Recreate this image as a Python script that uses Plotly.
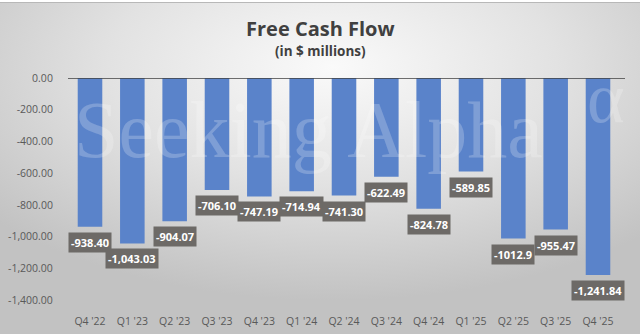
import base64
import plotly.graph_objects as go

# Quarterly free cash flow, $ millions
quarters = ["Q4 '22", "Q1 '23", "Q2 '23", "Q3 '23", "Q4 '23", "Q1 '24", "Q2 '24",
            "Q3 '24", "Q4 '24", "Q1 '25", "Q2 '25", "Q3 '25", "Q4 '25"]
fcf_labels = ["-938.40", "-1,043.03", "-904.07", "-706.10", "-747.19", "-714.94", "-741.30",
              "-622.49", "-824.78", "-589.85", "-1012.9", "-955.47", "-1,241.84"]
fcf = [float(s.replace(",", "")) for s in fcf_labels]

y_ticks = [0, -200, -400, -600, -800, -1000, -1200, -1400]
y_tick_text = ["0.00", "-200.00", "-400.00", "-600.00", "-800.00", "-1,000.00", "-1,200.00", "-1,400.00"]

FONT = "Open Sans, Noto Sans, sans-serif"
W, H = 640, 334
L, R, T, B = 68, 15, 78, 34
pw, ph = W - L - R, H - T - B


def px_x(x):
    return (x - L) / pw


def px_y(y):
    return (H - B - y) / ph


# soft radial grey backdrop
bg_svg = f"""<svg xmlns='http://www.w3.org/2000/svg' width='{W}' height='{H}'>
<defs><radialGradient id='g' cx='52%' cy='20%' r='70%'>
<stop offset='0' stop-color='#FAFAFA'/><stop offset='0.5' stop-color='#E2E2E2'/>
<stop offset='1' stop-color='#C2C2C2'/></radialGradient></defs>
<rect width='{W}' height='{H}' fill='url(#g)'/></svg>"""
bg_uri = "data:image/svg+xml;base64," + base64.b64encode(bg_svg.encode()).decode()

fig = go.Figure()
fig.add_trace(go.Bar(
    x=quarters, y=fcf,
    marker=dict(color="#5A83CA", line=dict(width=0)),
    hoverinfo="skip",
))

annotations = []
for q, v, s in zip(quarters, fcf, fcf_labels):
    annotations.append(dict(
        x=q, y=v, text=f"<b>{s}</b>", showarrow=False,
        yanchor="top", yshift=-5,
        bgcolor="#6D6A67", borderpad=2,
        font=dict(family=FONT, size=11, color="white"),
    ))

# watermark
annotations.append(dict(
    xref="paper", yref="paper", x=px_x(72), y=px_y(130), xanchor="left", yanchor="middle",
    text="Seeking Alpha", showarrow=False,
    font=dict(family="Liberation Serif, serif", size=80, color="rgba(255,255,255,0.22)"),
))
annotations.append(dict(
    xref="paper", yref="paper", x=px_x(585), y=px_y(98), xanchor="left", yanchor="middle",
    text="α", showarrow=False,
    font=dict(family="Liberation Serif, serif", size=72, color="rgba(255,255,255,0.22)"),
))

# titles
annotations.append(dict(
    xref="paper", yref="paper", x=px_x(320), y=px_y(28), xanchor="center", yanchor="middle",
    text="<b>Free Cash Flow</b>", showarrow=False,
    font=dict(family=FONT, size=20, color="#404040"),
))
annotations.append(dict(
    xref="paper", yref="paper", x=px_x(320), y=px_y(51), xanchor="center", yanchor="middle",
    text="<b>(in $ millions)</b>", showarrow=False,
    font=dict(family=FONT, size=13.5, color="#404040"),
))

fig.update_layout(
    width=W, height=H,
    margin=dict(l=L, r=R, t=T, b=B),
    paper_bgcolor="#DDDDDD",
    plot_bgcolor="rgba(0,0,0,0)",
    bargap=0.42,
    showlegend=False,
    font=dict(family=FONT, color="#595959", size=11),
    images=[dict(
        source=bg_uri, xref="paper", yref="paper",
        x=-L / pw, y=1 + T / ph, sizex=W / pw, sizey=H / ph,
        xanchor="left", yanchor="top", sizing="stretch", layer="below",
    )],
    annotations=annotations,
    shapes=[
        dict(type="line", xref="paper", yref="y", x0=0, x1=1, y0=0, y1=0,
             line=dict(color="#404040", width=1.5)),
        dict(type="rect", xref="paper", yref="paper", x0=px_x(0), x1=px_x(W),
             y0=px_y(2), y1=px_y(0), fillcolor="white", line=dict(width=0), layer="above"),
        dict(type="line", xref="paper", yref="paper", x0=px_x(0), x1=px_x(W),
             y0=px_y(2.5), y1=px_y(2.5), line=dict(color="#B8B8B8", width=1)),
    ],
    xaxis=dict(
        automargin=False,
        showgrid=False, zeroline=False, showline=False,
        ticks="outside", ticklen=11, tickcolor="rgba(0,0,0,0)",
        tickfont=dict(family=FONT, size=10.5, color="#595959"),
    ),
    yaxis=dict(
        automargin=False,
        range=[-1400, 0], showgrid=False, zeroline=False, showline=False,
        tickvals=y_ticks, ticktext=y_tick_text,
        ticks="outside", ticklen=12, tickcolor="rgba(0,0,0,0)",
        tickfont=dict(family=FONT, size=10.5, color="#595959"),
    ),
)

fig.write_html("out.html")
